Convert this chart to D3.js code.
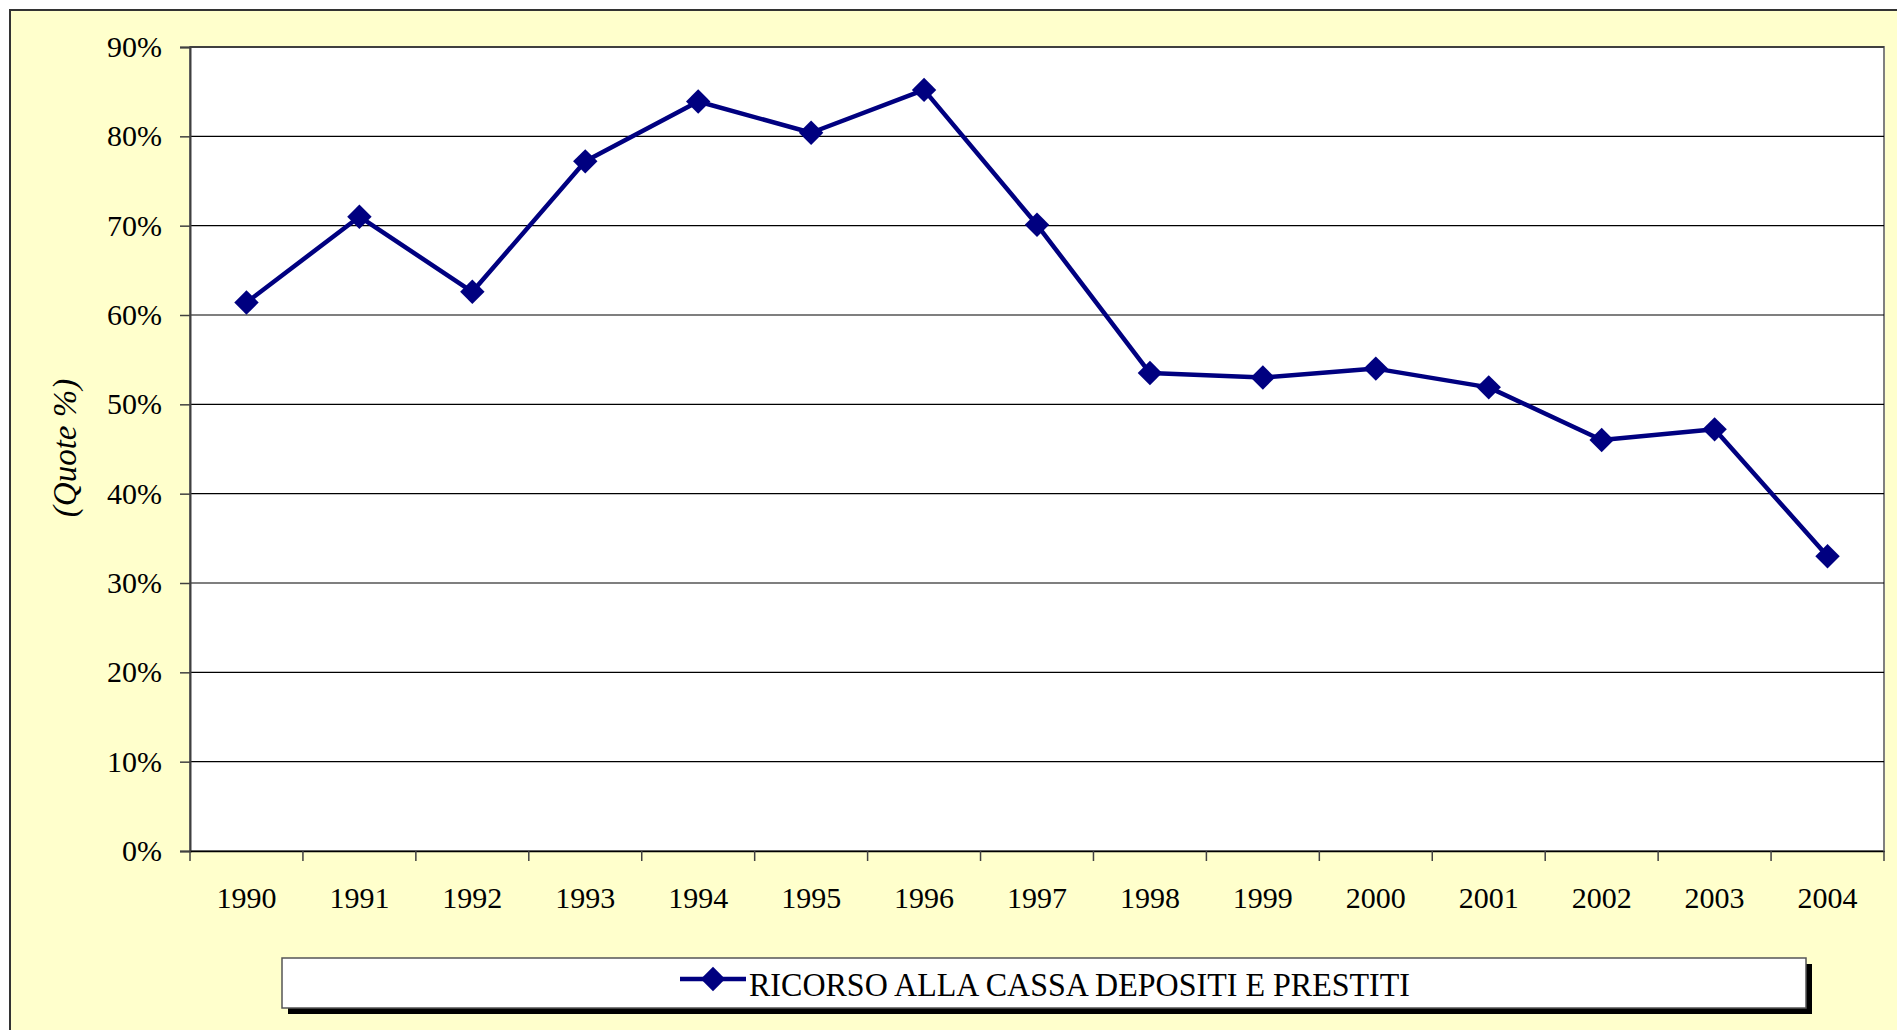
<!DOCTYPE html>
<html>
<head>
<meta charset="utf-8">
<script src="https://cdn.jsdelivr.net/npm/d3@7"></script>
<style>
  body { margin: 0; background: #ffffff; }
  text { font-family: "Liberation Serif", "Times New Roman", serif; fill: #000; }
</style>
</head>
<body>
<div id="chart"></div>
<script>
// Data
var years = ["1990", "1991", "1992", "1993", "1994", "1995", "1996", "1997",
  "1998", "1999", "2000", "2001", "2002", "2003", "2004"];
var quote = [61.4, 71.0, 62.6, 77.2, 83.9, 80.4, 85.2, 70.1, 53.5, 53.0, 54.0, 51.9, 46.0, 47.2, 33.0];
var yTicks = [0, 10, 20, 30, 40, 50, 60, 70, 80, 90];
var seriesName = "RICORSO ALLA CASSA DEPOSITI E PRESTITI";
var yTitle = "(Quote %)";

var width = 1897;
var height = 1030;

var plotLeft = 190;
var plotRight = 1884;
var plotTop = 47;
var plotBottom = 851;

var navy = "#000080";

var svg = d3
  .select("#chart")
  .append("svg")
  .attr("width", width)
  .attr("height", height);

// yellow frame (right and bottom edges run off the page)
svg
  .append("rect")
  .attr("x", 10)
  .attr("y", 10)
  .attr("width", width + 20)
  .attr("height", height + 20)
  .attr("fill", "#ffffcc")
  .attr("stroke", "#333333")
  .attr("stroke-width", 2);

// scales
var xScale = d3
  .scaleBand()
  .domain(years)
  .range([plotLeft, plotRight])
  .padding(0);

var yScale = d3
  .scaleLinear()
  .domain([0, 90])
  .range([plotBottom, plotTop]);

// plot area
svg
  .append("rect")
  .attr("x", plotLeft)
  .attr("y", plotTop)
  .attr("width", plotRight - plotLeft)
  .attr("height", plotBottom - plotTop)
  .attr("fill", "#ffffff")
  .attr("stroke", "#808080")
  .attr("stroke-width", 2);

// gridlines
svg
  .append("g")
  .selectAll("line")
  .data(yTicks.slice(1))
  .enter()
  .append("line")
  .attr("x1", plotLeft)
  .attr("x2", plotRight)
  .attr("y1", function (d) { return yScale(d); })
  .attr("y2", function (d) { return yScale(d); })
  .attr("stroke", "#000")
  .attr("stroke-width", 1.2);

// y axis
var yAxis = d3
  .axisLeft(yScale)
  .tickValues(yTicks)
  .tickFormat(function (d) { return d + "%"; })
  .tickSize(10)
  .tickPadding(18);

var yG = svg
  .append("g")
  .attr("transform", "translate(" + plotLeft + ",0)")
  .call(yAxis);
yG.select(".domain").attr("stroke", "#404040").attr("stroke-width", 2);
yG.selectAll(".tick line").attr("stroke", "#404040").attr("stroke-width", 1.5);
yG.selectAll("text")
  .attr("font-size", 30)
  .attr("font-family", "Liberation Serif");

// x axis: labels centred in each band, ticks on the band edges
var xAxis = d3.axisBottom(xScale).tickSize(0).tickPadding(36);

var xG = svg
  .append("g")
  .attr("transform", "translate(0," + plotBottom + ")")
  .call(xAxis);
xG.select(".domain").attr("stroke", "#000").attr("stroke-width", 1.5);
xG.selectAll("text")
  .attr("font-size", 30)
  .attr("font-family", "Liberation Serif");

xG.selectAll(".edgeTick")
  .data(years.concat(["end"]))
  .enter()
  .append("line")
  .attr("class", "edgeTick")
  .attr("x1", function (d, i) { return i < years.length ? xScale(d) : xScale(years[years.length - 1]) + xScale.bandwidth(); })
  .attr("x2", function (d, i) { return i < years.length ? xScale(d) : xScale(years[years.length - 1]) + xScale.bandwidth(); })
  .attr("y1", 0)
  .attr("y2", 10)
  .attr("stroke", "#404040")
  .attr("stroke-width", 1.5);

// y title
svg
  .append("text")
  .attr("transform", "translate(76,448)rotate(-90)")
  .attr("text-anchor", "middle")
  .attr("font-size", 33)
  .attr("font-style", "italic")
  .text(yTitle);

// series line
var points = years.map(function (y, i) {
  return [xScale(y) + xScale.bandwidth() / 2, yScale(quote[i])];
});

svg
  .append("path")
  .datum(points)
  .attr("d", d3.line())
  .attr("fill", "none")
  .attr("stroke", navy)
  .attr("stroke-width", 4.5)
  .attr("stroke-linejoin", "round");

var diamond = d3.symbol().type(d3.symbolDiamond2).size(380);

svg
  .append("g")
  .selectAll("path")
  .data(points)
  .enter()
  .append("path")
  .attr("d", diamond)
  .attr("transform", function (d) { return "translate(" + d[0] + "," + d[1] + ")"; })
  .attr("fill", navy);

// legend
var legend = svg.append("g");

legend
  .append("rect")
  .attr("x", 288)
  .attr("y", 964)
  .attr("width", 1524)
  .attr("height", 50)
  .attr("fill", "#000");

legend
  .append("rect")
  .attr("x", 282)
  .attr("y", 958)
  .attr("width", 1524)
  .attr("height", 50)
  .attr("fill", "#ffffff")
  .attr("stroke", "#555555")
  .attr("stroke-width", 1.5);

legend
  .append("line")
  .attr("x1", 680)
  .attr("x2", 746)
  .attr("y1", 979)
  .attr("y2", 979)
  .attr("stroke", navy)
  .attr("stroke-width", 4.5);

legend
  .append("path")
  .attr("d", diamond)
  .attr("transform", "translate(713,979)")
  .attr("fill", navy);

legend
  .append("text")
  .attr("x", 749)
  .attr("y", 996)
  .attr("font-size", 34)
  .attr("textLength", 661)
  .attr("lengthAdjust", "spacingAndGlyphs")
  .text(seriesName);
</script>
</body>
</html>
